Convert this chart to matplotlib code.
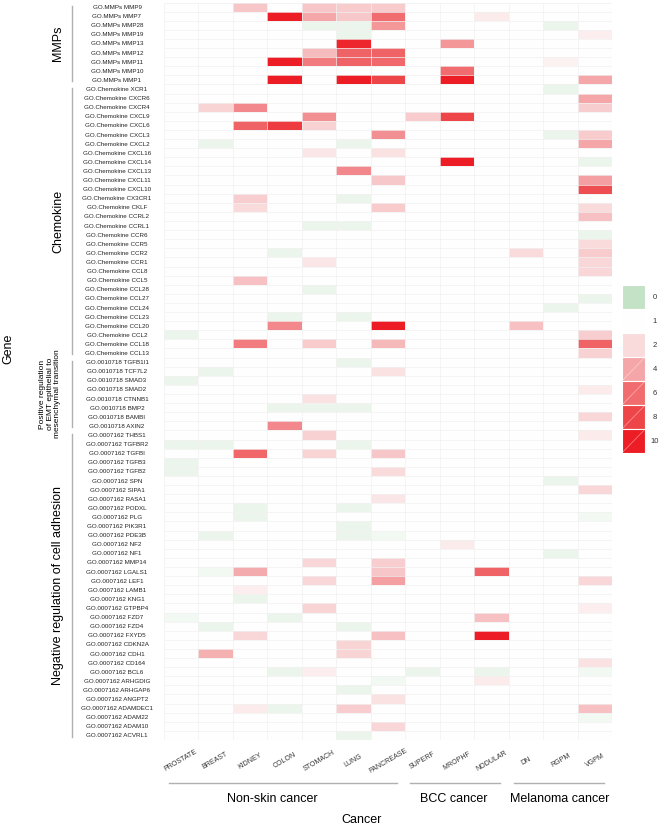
import numpy as np
import matplotlib
matplotlib.use('Agg')
import matplotlib.pyplot as plt
import matplotlib.transforms as mtransforms
from matplotlib.colors import LinearSegmentedColormap, Normalize
from matplotlib.patches import Rectangle

plt.rcParams['font.family'] = ['Liberation Sans', 'DejaVu Sans']

# Spalten: Krebsarten und ihre Gruppen (Name, Anzahl Spalten)
cancers = ['PROSTATE', 'BREAST', 'KIDNEY', 'COLON', 'STOMACH', 'LUNG', 'PANCREASE',
           'SUPERF', 'MROPHF', 'NODULAR', 'DN', 'RGPM', 'VGPM']
cancer_groups = [('Non-skin cancer', 7), ('BCC cancer', 3), ('Melanoma cancer', 3)]

# Werte je Gen (Reihenfolge der Spalten wie in cancers)
#              PR  BR   KI   CO   ST   LU   PA   SU   MR   NO   DN   RG   VG
mmp_genes = ['MMP9', 'MMP7', 'MMP28', 'MMP19', 'MMP13', 'MMP12', 'MMP11', 'MMP10', 'MMP1']
mmp_values = [
    [1, 1, 2.8, 1, 2.8, 2.6, 2.6, 1, 1, 1, 1, 1, 1],
    [1, 1, 1, 10, 4, 2.7, 6, 1, 1, 1.6, 1, 1, 1],
    [1, 1, 1, 1, .7, .7, 4.5, 1, 1, 1, 1, .7, 1],
    [1, 1, 1, 1, 1, .7, 1, 1, 1, 1, 1, 1, 1.5],
    [1, 1, 1, 1, 1, 9.5, 1, 1, 4.5, 1, 1, 1, 1],
    [1, 1, 1, 1, 3.2, 6.5, 6.5, 1, 1, 1, 1, 1, 1],
    [1, 1, 1, 10, 5.5, 6.5, 6.2, 1, 1, 1, 1, 1.4, 1],
    [1, 1, 1, 1, 1, 1, 1, 1, 6, 1, 1, 1, 1],
    [1, 1, 1, 10, 1, 10, 8, 1, 10, 1, 1, 1, 4],
]

chemokine_genes = ['XCR1', 'CXCR6', 'CXCR4', 'CXCL9', 'CXCL6', 'CXCL3', 'CXCL2', 'CXCL16',
                   'CXCL14', 'CXCL13', 'CXCL11', 'CXCL10', 'CX3CR1', 'CKLF', 'CCRL2', 'CCRL1',
                   'CCR6', 'CCR5', 'CCR2', 'CCR1', 'CCL8', 'CCL5', 'CCL28', 'CCL27', 'CCL24',
                   'CCL23', 'CCL20', 'CCL2', 'CCL18', 'CCL13']
chemokine_values = [
    [1, 1, 1, 1, 1, 1, 1, 1, 1, 1, 1, .7, 1],
    [1, 1, 1, 1, 1, 1, 1, 1, 1, 1, 1, 1, 4],
    [1, 2.3, 5, 1, 1, 1, 1, 1, 1, 1, 1, 1, 2.5],
    [1, 1, 1, 1, 4.8, 1, 1, 2.6, 8, 1, 1, 1, 1],
    [1, 1, 6.5, 8.5, 2.4, 1, 1, 1, 1, 1, 1, 1, 1],
    [1, 1, 1, 1, 1, 1, 4.8, 1, 1, 1, 1, .7, 2.6],
    [1, .7, 1, 1, 1, .7, 1, 1, 1, 1, 1, 1, 4],
    [1, 1, 1, 1, 1.7, 1, 1.8, 1, 1, 1, 1, 1, 1],
    [1, 1, 1, 1, 1, 1, 1, 1, 10, 1, 1, 1, .7],
    [1, 1, 1, 1, 1, 5, 1, 1, 1, 1, 1, 1, 1],
    [1, 1, 1, 1, 1, 1, 2.7, 1, 1, 1, 1, 1, 4.2],
    [1, 1, 1, 1, 1, 1, 1, 1, 1, 1, 1, 1, 7.5],
    [1, 1, 2.5, 1, 1, .7, 1, 1, 1, 1, 1, 1, 1],
    [1, 1, 2, 1, 1, 1, 2.6, 1, 1, 1, 1, 1, 2],
    [1, 1, 1, 1, 1, 1, 1, 1, 1, 1, 1, 1, 3],
    [1, 1, 1, 1, .7, .7, 1, 1, 1, 1, 1, 1, 1],
    [1, 1, 1, 1, 1, 1, 1, 1, 1, 1, 1, 1, .7],
    [1, 1, 1, 1, 1, 1, 1, 1, 1, 1, 1, 1, 2],
    [1, 1, 1, .7, 1, 1, 1, 1, 1, 1, 2, 1, 2.6],
    [1, 1, 1, 1, 1.7, 1, 1, 1, 1, 1, 1, 1, 2.2],
    [1, 1, 1, 1, 1, 1, 1, 1, 1, 1, 1, 1, 2.2],
    [1, 1, 3, 1, 1, 1, 1, 1, 1, 1, 1, 1, 1],
    [1, 1, 1, 1, .7, 1, 1, 1, 1, 1, 1, 1, 1],
    [1, 1, 1, 1, 1, 1, 1, 1, 1, 1, 1, 1, .7],
    [1, 1, 1, 1, 1, 1, 1, 1, 1, 1, 1, .7, 1],
    [1, 1, 1, .7, 1, .7, 1, 1, 1, 1, 1, 1, 1],
    [1, 1, 1, 5, 1, 1, 10, 1, 1, 1, 3, 1, 1],
    [.7, 1, 1, 1, 1, 1, 1, 1, 1, 1, 1, 1, 2.5],
    [1, 1, 5.5, 1, 2.6, 1, 3.3, 1, 1, 1, 1, 1, 6.5],
    [1, 1, 1, 1, 1, 1, 1, 1, 1, 1, 1, 1, 2.4],
]

emt_genes = ['TGFB1I1', 'TCF7L2', 'SMAD3', 'SMAD2', 'CTNNB1', 'BMP2', 'BAMBI', 'AXIN2']
emt_values = [
    [1, 1, 1, 1, 1, .7, 1, 1, 1, 1, 1, 1, 1],
    [1, .7, 1, 1, 1, 1, 1.8, 1, 1, 1, 1, 1, 1],
    [.7, 1, 1, 1, 1, 1, 1, 1, 1, 1, 1, 1, 1],
    [1, 1, 1, 1, 1, 1, 1, 1, 1, 1, 1, 1, 1.6],
    [1, 1, 1, 1, 1.8, 1, 1, 1, 1, 1, 1, 1, 1],
    [1, 1, 1, .7, .7, .7, 1, 1, 1, 1, 1, 1, 1],
    [1, 1, 1, 1, 1, 1, 1, 1, 1, 1, 1, 1, 2.2],
    [1, 1, 1, 5, 1, 1, 1, 1, 1, 1, 1, 1, 1],
]

adhesion_genes = ['THBS1', 'TGFBR2', 'TGFBI', 'TGFB3', 'TGFB2', 'SPN', 'SIPA1', 'RASA1',
                  'PODXL', 'PLG', 'PIK3R1', 'PDE3B', 'NF2', 'NF1', 'MMP14', 'LGALS1', 'LEF1',
                  'LAMB1', 'KNG1', 'GTPBP4', 'FZD7', 'FZD4', 'FXYD5', 'CDKN2A', 'CDH1',
                  'CD164', 'BCL6', 'ARHGDIG', 'ARHGAP6', 'ANGPT2', 'ADAMDEC1', 'ADAM22',
                  'ADAM10', 'ACVRL1']
adhesion_values = [
    [1, 1, 1, 1, 2.4, 1, 1, 1, 1, 1, 1, 1, 1.6],
    [.7, .7, 1, 1, 1, .7, 1, 1, 1, 1, 1, 1, 1],
    [1, 1, 6.3, 1, 2.3, 1, 2.8, 1, 1, 1, 1, 1, 1],
    [.7, 1, 1, 1, 1, 1, 1, 1, 1, 1, 1, 1, 1],
    [.7, 1, 1, 1, 1, 1, 2, 1, 1, 1, 1, 1, 1],
    [1, 1, 1, 1, 1, 1, 1, 1, 1, 1, 1, .7, 1],
    [1, 1, 1, 1, 1, 1, 1, 1, 1, 1, 1, 1, 2.2],
    [1, 1, 1, 1, 1, 1, 1.7, 1, 1, 1, 1, 1, 1],
    [1, 1, .7, 1, 1, .7, 1, 1, 1, 1, 1, 1, 1],
    [1, 1, .7, 1, 1, 1, 1, 1, 1, 1, 1, 1, .8],
    [1, 1, 1, 1, 1, .7, 1, 1, 1, 1, 1, 1, 1],
    [1, .7, 1, 1, 1, .7, .8, 1, 1, 1, 1, 1, 1],
    [1, 1, 1, 1, 1, 1, 1, 1, 1.6, 1, 1, 1, 1],
    [1, 1, 1, 1, 1, 1, 1, 1, 1, 1, 1, .7, 1],
    [1, 1, 1, 1, 2.2, 1, 2.5, 1, 1, 1, 1, 1, 1],
    [1, .8, 3.8, 1, 1, 1, 2.8, 1, 1, 6.5, 1, 1, 1],
    [1, 1, 1, 1, 2.2, 1, 4.2, 1, 1, 1, 1, 1, 2.2],
    [1, 1, 1.5, 1, 1, 1, 1, 1, 1, 1, 1, 1, 1],
    [1, 1, .7, 1, 1, 1, 1, 1, 1, 1, 1, 1, 1],
    [1, 1, 1, 1, 2.3, 1, 1, 1, 1, 1, 1, 1, 1.5],
    [.8, 1, 1, .7, 1, 1, 1, 1, 1, 3, 1, 1, 1],
    [1, .7, 1, 1, 1, .7, 1, 1, 1, 1, 1, 1, 1],
    [1, 1, 2.2, 1, 1, 1, 3, 1, 1, 10, 1, 1, 1],
    [1, 1, 1, 1, 1, 2.3, 1, 1, 1, 1, 1, 1, 1],
    [1, 3.6, 1, 1, 1, 2.3, 1, 1, 1, 1, 1, 1, 1],
    [1, 1, 1, 1, 1, 1, 1, 1, 1, 1, 1, 1, 1.8],
    [1, 1, 1, .7, 1.5, 1, 1, .7, 1, .7, 1, 1, .8],
    [1, 1, 1, 1, 1, 1, .8, 1, 1, 1.6, 1, 1, 1],
    [1, 1, 1, 1, 1, .7, 1, 1, 1, 1, 1, 1, 1],
    [1, 1, 1, 1, 1, 1, 1.8, 1, 1, 1, 1, 1, 1],
    [1, 1, 1.6, .7, 1, 2.5, 1, 1, 1, 1, 1, 1, 3],
    [1, 1, 1, 1, 1, 1, 1, 1, 1, 1, 1, 1, .8],
    [1, 1, 1, 1, 1, 1, 2.2, 1, 1, 1, 1, 1, 1],
    [1, 1, 1, 1, 1, .7, 1, 1, 1, 1, 1, 1, 1],
]

# Gruppen: (Präfix, Beschriftung, Gene, Werte)
gene_sets = [
    ('GO.MMPs', 'MMPs', mmp_genes, mmp_values),
    ('GO.Chemokine', 'Chemokine', chemokine_genes, chemokine_values),
    ('GO.0010718', 'Positive regulation\nof EMT epithelial to\nmesenchymal transition', emt_genes, emt_values),
    ('GO.0007162', 'Negative regulation of cell adhesion', adhesion_genes, adhesion_values),
]
legend_levels = [0, 1, 2, 4, 6, 8, 10]

row_labels = [f'{prefix} {g}' for prefix, _, genes, _ in gene_sets for g in genes]
data = np.vstack([np.array(vals, dtype=float) for _, _, _, vals in gene_sets])
n_rows, n_cols = data.shape

# Farbskala: grün (0) -> weiß (1) -> rot (10)
cmap = LinearSegmentedColormap.from_list('gwr', [
    (0.0, '#c4e2c6'), (0.1, '#ffffff'), (0.2, '#f9dbdc'), (0.4, '#f4a6a8'),
    (0.6, '#f06c6f'), (0.8, '#ee4548'), (1.0, '#ec1d24')])
norm = Normalize(vmin=0, vmax=10)

W, H = 661, 827
fig = plt.figure(figsize=(W / 100, H / 100), dpi=100)
left, right, top, bottom = 163.5, 612.3, 2.5, 740
ax = fig.add_axes([left / W, 1 - bottom / H, (right - left) / W, (bottom - top) / H])

ax.pcolormesh(np.arange(n_cols + 1), np.arange(n_rows + 1), data, cmap=cmap, norm=norm)
ax.hlines(np.arange(n_rows + 1), 0, n_cols, color='#f1f1f1', lw=0.5)
ax.vlines(np.arange(n_cols + 1), 0, n_rows, color='#f1f1f1', lw=0.5)
ax.set_xlim(0, n_cols)
ax.set_ylim(n_rows, 0)
for s in ax.spines.values():
    s.set_visible(False)

ax.set_yticks(np.arange(n_rows) + 0.5)
ax.set_yticklabels(row_labels, fontsize=4.5, color='#222222')
ax.tick_params(axis='y', length=0, pad=33.5)
for lbl in ax.get_yticklabels():
    lbl.set_ha('center')

ax.set_xticks(np.arange(n_cols) + 0.5)
ax.set_xticklabels(cancers, fontsize=5, rotation=30, color='#333333')
ax.tick_params(axis='x', length=0, pad=15)
for lbl in ax.get_xticklabels():
    lbl.set_ha('center')
    lbl.set_va('center')

# Überlagerung in Pixelkoordinaten für Klammern, Titel und Legende
ov = fig.add_axes([0, 0, 1, 1])
ov.set_xlim(0, W)
ov.set_ylim(H, 0)
ov.axis('off')

bracket_col = '#b0b0b0'
trans_left = mtransforms.blended_transform_factory(ov.transData, ax.transData)
start = 0
for _, title, genes, _ in gene_sets:
    end = start + len(genes)
    ov.plot([72, 72], [start + 0.4, end - 0.35], color=bracket_col, lw=1, transform=trans_left)
    mid = (start + end) / 2
    if '\n' in title:
        ov.text(50, mid, title, rotation=90, ha='center', va='center', fontsize=6,
                multialignment='center', linespacing=1.15, transform=trans_left)
    else:
        ov.text(58, mid, title, rotation=90, ha='center', va='center', fontsize=9,
                transform=trans_left)
    start = end

trans_bot = mtransforms.blended_transform_factory(ax.transData, ov.transData)
start = 0
label_shift = [-0.35, -0.08, -0.03]
for (title, n), sh in zip(cancer_groups, label_shift):
    end = start + n
    ov.plot([start + 0.15, end - 0.25], [783, 783], color=bracket_col, lw=1, transform=trans_bot)
    ov.text((start + end) / 2 + sh, 799, title, ha='center', va='center', fontsize=9,
            transform=trans_bot)
    start = end

ov.text(8, 349, 'Gene', rotation=90, ha='center', va='center', fontsize=9)
ov.text(362, 820, 'Cancer', ha='center', va='center', fontsize=9)

# Legende
key_x, key_w, key_h, key_y0 = 621.5, 23.5, 24.0, 285.3
for i, lev in enumerate(legend_levels):
    y0 = key_y0 + i * key_h
    ov.add_patch(Rectangle((key_x, y0), key_w, key_h, facecolor=cmap(norm(lev)),
                           edgecolor='white', lw=0.8))
    if lev > 2:
        ov.plot([key_x + 1, key_x + key_w - 1], [y0 + key_h - 1, y0 + 1],
                color='white', lw=0.4, alpha=0.6)
    ov.text(655, y0 + key_h / 2, str(lev), ha='center', va='center', fontsize=5.5,
            color='#333333')

fig.savefig('out.png', dpi=100)
